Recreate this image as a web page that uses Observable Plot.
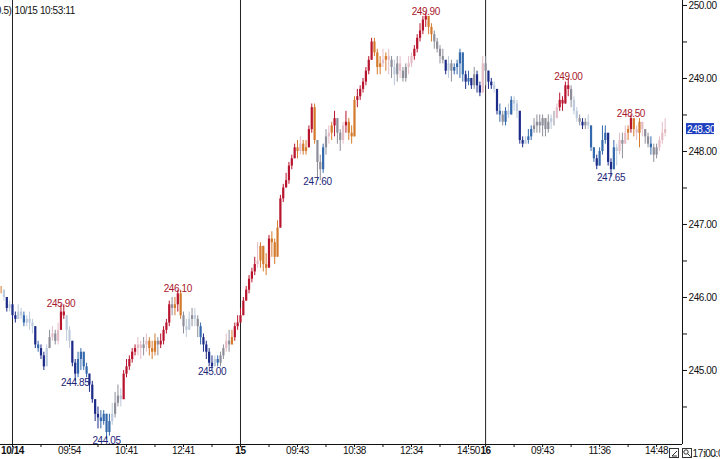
<!DOCTYPE html>
<html><head><meta charset="utf-8">
<script src="https://cdn.jsdelivr.net/npm/d3@7"></script>
<script src="https://cdn.jsdelivr.net/npm/@observablehq/plot@0.6"></script>
<style>body{margin:0;background:#fff} svg{display:block} svg text{letter-spacing:-0.4px}</style>
</head><body><div id="chart"></div>
<script>
// bar index of the first bar (4 bars before 10/14 session start)
const firstIndex = -4;
const firstOpen = 246.10;
const closes = [
246.10,246.00,245.85,245.90,
245.75,245.70,245.80,245.75,245.65,245.70,245.65,245.60,245.35,245.30,
245.20,245.05,245.30,245.45,245.50,245.40,245.55,245.80,245.75,245.55,
245.40,245.10,244.95,245.15,245.25,245.05,244.95,244.80,244.60,244.40,
244.35,244.30,244.40,244.15,244.30,244.40,244.55,244.65,244.60,244.95,
245.05,245.15,245.25,245.30,245.35,245.30,245.35,245.40,245.30,245.25,
245.40,245.35,245.40,245.55,245.65,245.90,245.85,245.90,246.05,245.75,
245.60,245.55,245.70,245.75,245.70,245.60,245.45,245.35,245.25,245.10,
245.05,245.15,245.10,245.20,245.30,245.40,245.35,245.45,245.60,245.65,
245.75,245.95,246.10,246.25,246.35,246.45,246.50,246.70,246.45,246.40,
246.80,246.75,246.55,246.95,247.35,247.50,247.60,247.80,247.90,248.05,
248.00,248.10,248.00,248.05,248.30,248.60,248.15,247.85,247.75,248.05,
248.20,248.25,248.35,248.45,248.25,248.15,248.35,248.40,248.25,248.20,
248.70,248.75,248.85,248.95,249.10,249.25,249.50,249.35,249.15,249.20,
249.25,249.30,249.25,249.15,249.05,249.20,249.10,249.00,249.15,249.20,
249.30,249.40,249.55,249.65,249.80,249.85,249.70,249.60,249.50,249.40,
249.30,249.25,249.10,249.20,249.10,249.15,249.20,249.35,249.05,248.95,
249.00,248.90,249.05,248.90,248.80,249.20,249.10,248.95,248.90,248.85,
248.55,248.50,248.40,248.55,248.50,248.70,248.65,248.55,248.15,248.10,
248.15,248.20,248.30,248.35,248.40,248.35,248.45,248.30,248.40,248.45,
248.45,248.60,248.70,248.65,248.90,248.85,248.70,248.55,248.45,248.40,
248.35,248.40,248.35,248.05,247.90,247.80,248.00,248.15,248.25,247.85,
247.75,248.05,248.00,248.15,248.10,248.25,248.30,248.45,248.30,248.25,
248.40,248.30,248.20,248.10,248.05,247.95,248.05,248.15,248.25,248.30];
const highs = [
246.15,246.10,246.00,245.95,
245.90,245.80,245.90,245.85,245.80,245.75,245.80,245.70,245.60,245.40,
245.35,245.25,245.35,245.55,245.60,245.55,245.65,245.90,245.90,245.75,
245.60,245.40,245.15,245.25,245.30,245.25,245.10,244.95,244.85,244.60,
244.50,244.45,244.45,244.40,244.40,244.55,244.70,244.80,244.75,245.00,
245.15,245.20,245.30,245.35,245.45,245.40,245.45,245.50,245.45,245.40,
245.50,245.45,245.50,245.60,245.70,245.95,246.00,246.00,246.10,246.10,
245.80,245.70,245.80,245.85,245.85,245.75,245.65,245.50,245.40,245.30,
245.20,245.20,245.20,245.25,245.35,245.50,245.55,245.55,245.65,245.75,
245.85,246.00,246.15,246.30,246.40,246.55,246.75,246.75,246.70,246.60,
246.85,246.90,246.80,247.05,247.40,247.55,247.70,247.85,247.95,248.10,
248.15,248.20,248.15,248.15,248.35,248.65,248.65,248.10,247.95,248.10,
248.30,248.35,248.40,248.55,248.45,248.30,248.40,248.55,248.45,248.35,
248.75,248.85,248.90,249.00,249.15,249.30,249.55,249.55,249.40,249.30,
249.40,249.35,249.40,249.30,249.25,249.30,249.30,249.15,249.20,249.30,
249.35,249.45,249.60,249.75,249.85,249.90,249.85,249.75,249.65,249.55,
249.45,249.40,249.20,249.30,249.25,249.20,249.25,249.40,249.35,249.10,
249.10,249.00,249.15,249.10,248.95,249.30,249.30,249.10,249.00,248.95,
248.85,248.65,248.55,248.60,248.65,248.75,248.75,248.70,248.55,248.20,
248.20,248.30,248.35,248.45,248.50,248.50,248.50,248.45,248.50,248.50,
248.55,248.65,248.80,248.75,248.95,249.00,248.90,248.75,248.60,248.50,
248.45,248.45,248.50,248.35,248.05,247.95,248.05,248.35,248.35,248.20,
247.90,248.15,248.10,248.25,248.25,248.35,248.35,248.50,248.45,248.35,
248.45,248.40,248.30,248.25,248.20,248.10,248.10,248.20,248.40,248.45];
const lows = [
246.05,245.95,245.80,245.80,
245.70,245.65,245.70,245.70,245.60,245.60,245.55,245.50,245.30,245.25,
245.15,245.00,245.05,245.30,245.40,245.35,245.35,245.55,245.70,245.40,
245.30,245.05,244.85,244.90,245.00,245.00,244.90,244.70,244.55,244.30,
244.20,244.20,244.25,244.05,244.10,244.25,244.35,244.50,244.50,244.60,
244.90,245.00,245.10,245.20,245.20,245.15,245.20,245.25,245.20,245.15,
245.20,245.20,245.30,245.35,245.50,245.60,245.75,245.75,245.80,245.70,
245.50,245.45,245.55,245.60,245.60,245.45,245.35,245.25,245.15,245.05,
245.00,245.05,245.05,245.05,245.15,245.25,245.25,245.35,245.40,245.55,
245.65,245.75,245.95,246.05,246.20,246.30,246.40,246.40,246.35,246.30,
246.45,246.55,246.45,246.60,246.95,247.30,247.50,247.55,247.75,247.90,
247.90,247.95,247.95,247.95,248.05,248.25,248.10,247.60,247.60,247.70,
247.95,248.10,248.15,248.20,248.10,248.00,248.10,248.25,248.15,248.10,
248.20,248.60,248.70,248.80,248.90,249.05,249.25,249.30,249.05,249.05,
249.15,249.10,249.05,249.00,248.90,248.95,249.00,248.95,248.95,249.05,
249.15,249.25,249.35,249.50,249.60,249.70,249.60,249.50,249.40,249.35,
249.20,249.20,249.05,249.00,248.95,249.05,249.05,249.00,248.95,248.85,
248.90,248.85,248.85,248.80,248.75,248.80,248.90,248.85,248.85,248.80,
248.50,248.40,248.35,248.35,248.45,248.50,248.55,248.45,248.10,248.05,
248.10,248.10,248.15,248.25,248.25,248.25,248.20,248.20,248.25,248.30,
248.35,248.45,248.55,248.55,248.65,248.75,248.60,248.50,248.40,248.35,
248.30,248.30,248.30,248.00,247.85,247.75,247.80,247.95,248.10,247.80,
247.65,247.75,247.80,247.95,247.90,248.10,248.15,248.25,248.20,248.15,
248.05,248.20,248.10,248.05,247.95,247.85,247.90,248.00,248.10,248.20];
// trend-colour class of each bar (R strong up … D strong down)
const barClass = (
"OLDL" +
"DDLLBLLLDB" + "DDLGPGPRRL" + "LDDBBBBDDD" + "DBBBBLGGLR" + "RRRRPPGPOO" +
"OGRRRRGORO" + "GLLGLGBDDD" + "DLBGGPGORR" +
"RRRRRRPOOO" + "ROOORRRRRR" + "OPOORROGGB" + "GPORGGPROO" + "ORRRRRROOO" +
"POPGLGPGGP" + "PRRRRROOGG" + "GGDLGBBBBD" + "BDGDDPGDDL" +
"DBGBLBLLDD" + "LBBGGGGGGL" + "GPRRRRGLLG" + "DGLBBDBBBD" + "DBLPGPOROP" +
"OPGGBGGPPP").split("");
const classColors = {R:"#b8142e", O:"#d47a2c", P:"#e4bcc6", G:"#8e8e9a", L:"#bccadc", B:"#3468ac", D:"#1c2a88"};

// annotated extremes (bar index)
const highMarks = [17, 58, 145, 195, 217];
const lowMarks = [22, 33, 70, 107, 210];

// session separators and time axis
const sessionStarts = [0, 80, 166];
const tickIdx = [0,10,20,30,40,50,60,70, 80,90,100,110,120,130,140,150,160, 166,176,186,196,206,216,226];
const dayLabelIdx = [0, 80, 166];
const dayLabelText = ["10/14", "15", "16"];
const timeLabelIdx = [20, 40, 60, 100, 120, 140, 160, 186, 206, 226];
const timeLabelText = ["09:54","10:41","12:41","09:43","10:38","12:34","14:50","09:43","11:36","14:48"];
const priceTicks = [244.5,245,245.5,246,246.5,247,247.5,248,248.5,249,249.5,250];
const stampText = "10/15 10:53:11";
const cutText = "0.5)";
const lastPrice = 248.30;
const endTimeText = "17:00:00";

const bars = closes.map((c, k) => ({
  i: firstIndex + k,
  o: k === 0 ? firstOpen : closes[k - 1],
  c, h: highs[k], l: lows[k],
  col: classColors[barClass[k]]
}));
const byIdx = new Map(bars.map(b => [b.i, b]));
const hiData = highMarks.map(i => byIdx.get(i));
const loData = lowMarks.map(i => byIdx.get(i));

const FONT = "'Liberation Sans', Arial, sans-serif";
const FS = 10;
const xDomain = [-4.21, 235.09];
const yDomain = [243.986, 250.068];

const chart = Plot.plot({
  width: 720, height: 459,
  marginLeft: 0, marginRight: 38, marginTop: 0, marginBottom: 15,
  style: {fontFamily: FONT, fontSize: FS + "px", background: "#fff", color: "#111", overflow: "visible"},
  x: {domain: xDomain, axis: null},
  y: {domain: yDomain, axis: null},
  marks: [
    Plot.ruleX(sessionStarts, {stroke: "#222", strokeWidth: 1}),
    Plot.ruleX(bars, {x: "i", y1: "l", y2: "h", stroke: "col", strokeWidth: 1}),
    Plot.ruleX(bars, {x: "i", y1: "o", y2: "c", stroke: "col", strokeWidth: 2.2}),
    Plot.text(hiData, {x: "i", y: "h", text: d => d.h.toFixed(2), fill: "#a8182c", lineAnchor: "bottom", dy: 2, fontSize: FS}),
    Plot.text(loData, {x: "i", y: "l", text: d => d.l.toFixed(2), fill: "#1c2478", lineAnchor: "top", dy: -3, fontSize: FS}),
    Plot.ruleX([xDomain[1]], {stroke: "#111"}),
    Plot.ruleY([yDomain[0]], {stroke: "#111"}),
    Plot.axisY({anchor: "right", ticks: priceTicks, tickFormat: d => Number.isInteger(d) ? d.toFixed(2) : "", tickSize: 4, tickPadding: 2, fontSize: FS, stroke: "#111"}),
    Plot.axisX({ticks: tickIdx, tickFormat: () => "", tickSize: 3, stroke: "#111"}),
    Plot.text(timeLabelIdx, {x: d => d, text: (d, j) => timeLabelText[j], frameAnchor: "bottom", dy: 9, fontSize: FS, fill: "#111"}),
    Plot.text(dayLabelIdx, {x: d => d, text: (d, j) => dayLabelText[j], frameAnchor: "bottom", dy: 9, fontSize: FS, fontWeight: "bold", fill: "#111"}),
    Plot.text([stampText], {frameAnchor: "top-left", dx: 14, dy: 6, textAnchor: "start", fontSize: FS, fill: "#111"}),
    Plot.text([cutText], {frameAnchor: "top-left", dx: 11, dy: 6, textAnchor: "end", fontSize: FS, fill: "#111"})
  ]
});
document.getElementById("chart").appendChild(chart);

// current-price tag and bottom-right controls
const svg = d3.select(chart);
const ys = chart.scale("y"), xs = chart.scale("x");
const tagY = ys.apply(lastPrice), axX = xs.apply(xDomain[1]);
svg.append("rect").attr("x", axX + 4).attr("y", tagY - 6).attr("width", 28).attr("height", 11).attr("fill", "#1f3fbf");
svg.append("text").attr("x", axX + 5).attr("y", tagY + 3.5).attr("text-anchor", "start").attr("fill", "#fff").attr("font-size", FS).attr("font-family", FONT).text(lastPrice.toFixed(2));
const by = ys.apply(yDomain[0]) + 4;
const g = svg.append("g").attr("fill", "none").attr("stroke", "#333");
g.append("rect").attr("x", axX - 12.5).attr("y", by + 0.5).attr("width", 9).attr("height", 9);
g.append("path").attr("d", `M${axX-10},${by+8} L${axX-5},${by+3} M${axX-10},${by+8} L${axX-5},${by+8}`);
g.append("rect").attr("x", axX + 0.5).attr("y", by + 0.5).attr("width", 9).attr("height", 9);
g.append("circle").attr("cx", axX + 4).attr("cy", by + 4).attr("r", 2.2);
g.append("path").attr("d", `M${axX+5.5},${by+5.5} L${axX+8.5},${by+8.5}`);
svg.append("text").attr("x", axX + 10.5).attr("y", by + 8.5).attr("text-anchor", "start").attr("font-size", FS).attr("font-family", FONT).attr("fill", "#111").text(endTimeText);
</script></body></html>
